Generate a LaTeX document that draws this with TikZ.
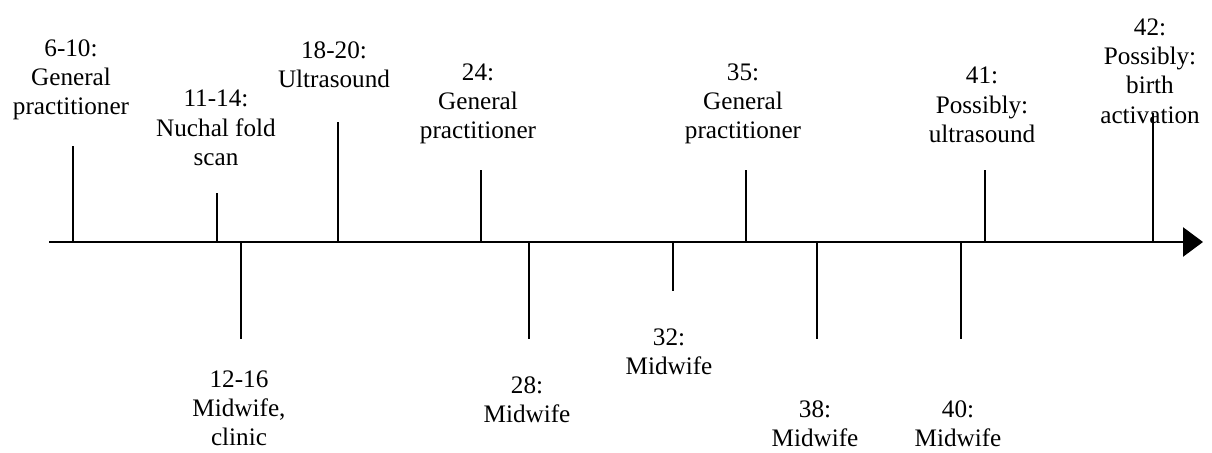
\documentclass[tikz,border=0pt]{standalone}
\usepackage{fontspec}
\setmainfont{Liberation Serif}
\usepackage{tikz}
\usetikzlibrary{arrows.meta}

\begin{document}
\begin{tikzpicture}[
    x=0.5pt, y=-0.5pt,
    tick/.style={line width=1.1pt},
    lbl/.style={align=center, inner sep=0pt, font=\fontsize{12.6}{14.6}\selectfont},
    ]
    \useasboundingbox (0,0) rectangle (1212,453);
    % time axis
    \coordinate (start) at (49,242);
    \coordinate (end) at (1203,242);
    \draw[line width=1.4pt, -{Triangle[length=10pt,width=14.5pt]}] (start) -- (end);
    % visits above the axis
    \coordinate (a1) at (73,242);
    \coordinate (e1) at (73,146);
    \draw[tick] (a1) -- (e1);
    \node[lbl] (l1) at (71,80) {6-10:\\General\\practitioner};
    \coordinate (a2) at (217,242);
    \coordinate (e2) at (217,193);
    \draw[tick] (a2) -- (e2);
    \node[lbl] (l2) at (216,128) {11-14:\\Nuchal fold\\scan};
    \coordinate (a4) at (338,242);
    \coordinate (e4) at (338,122);
    \draw[tick] (a4) -- (e4);
    \node[lbl] (l4) at (334,65) {18-20:\\Ultrasound};
    \coordinate (a5) at (481,242);
    \coordinate (e5) at (481,170);
    \draw[tick] (a5) -- (e5);
    \node[lbl] (l5) at (478,104) {24:\\General\\practitioner};
    \coordinate (a8) at (746,242);
    \coordinate (e8) at (746,170);
    \draw[tick] (a8) -- (e8);
    \node[lbl] (l8) at (743,104) {35:\\General\\practitioner};
    \coordinate (a11) at (985,242);
    \coordinate (e11) at (985,170);
    \draw[tick] (a11) -- (e11);
    \node[lbl] (l11) at (982,105) {41:\\Possibly:\\ultrasound};
    \coordinate (a12) at (1153,242);
    \coordinate (e12) at (1153,113);
    \draw[tick] (a12) -- (e12);
    \node[lbl] (l12) at (1150,71) {42:\\Possibly:\\birth\\activation};
    % visits below the axis
    \coordinate (a3) at (241,242);
    \coordinate (e3) at (241,339);
    \draw[tick] (a3) -- (e3);
    \node[lbl] (l3) at (239,408) {12-16\\Midwife,\\clinic};
    \coordinate (a6) at (529,242);
    \coordinate (e6) at (529,339);
    \draw[tick] (a6) -- (e6);
    \node[lbl] (l6) at (527,400) {28:\\Midwife};
    \coordinate (a7) at (673,242);
    \coordinate (e7) at (673,291);
    \draw[tick] (a7) -- (e7);
    \node[lbl] (l7) at (669,352) {32:\\Midwife};
    \coordinate (a9) at (817,242);
    \coordinate (e9) at (817,339);
    \draw[tick] (a9) -- (e9);
    \node[lbl] (l9) at (815,424) {38:\\Midwife};
    \coordinate (a10) at (961,242);
    \coordinate (e10) at (961,339);
    \draw[tick] (a10) -- (e10);
    \node[lbl] (l10) at (958,424) {40:\\Midwife};
\end{tikzpicture}
\end{document}
